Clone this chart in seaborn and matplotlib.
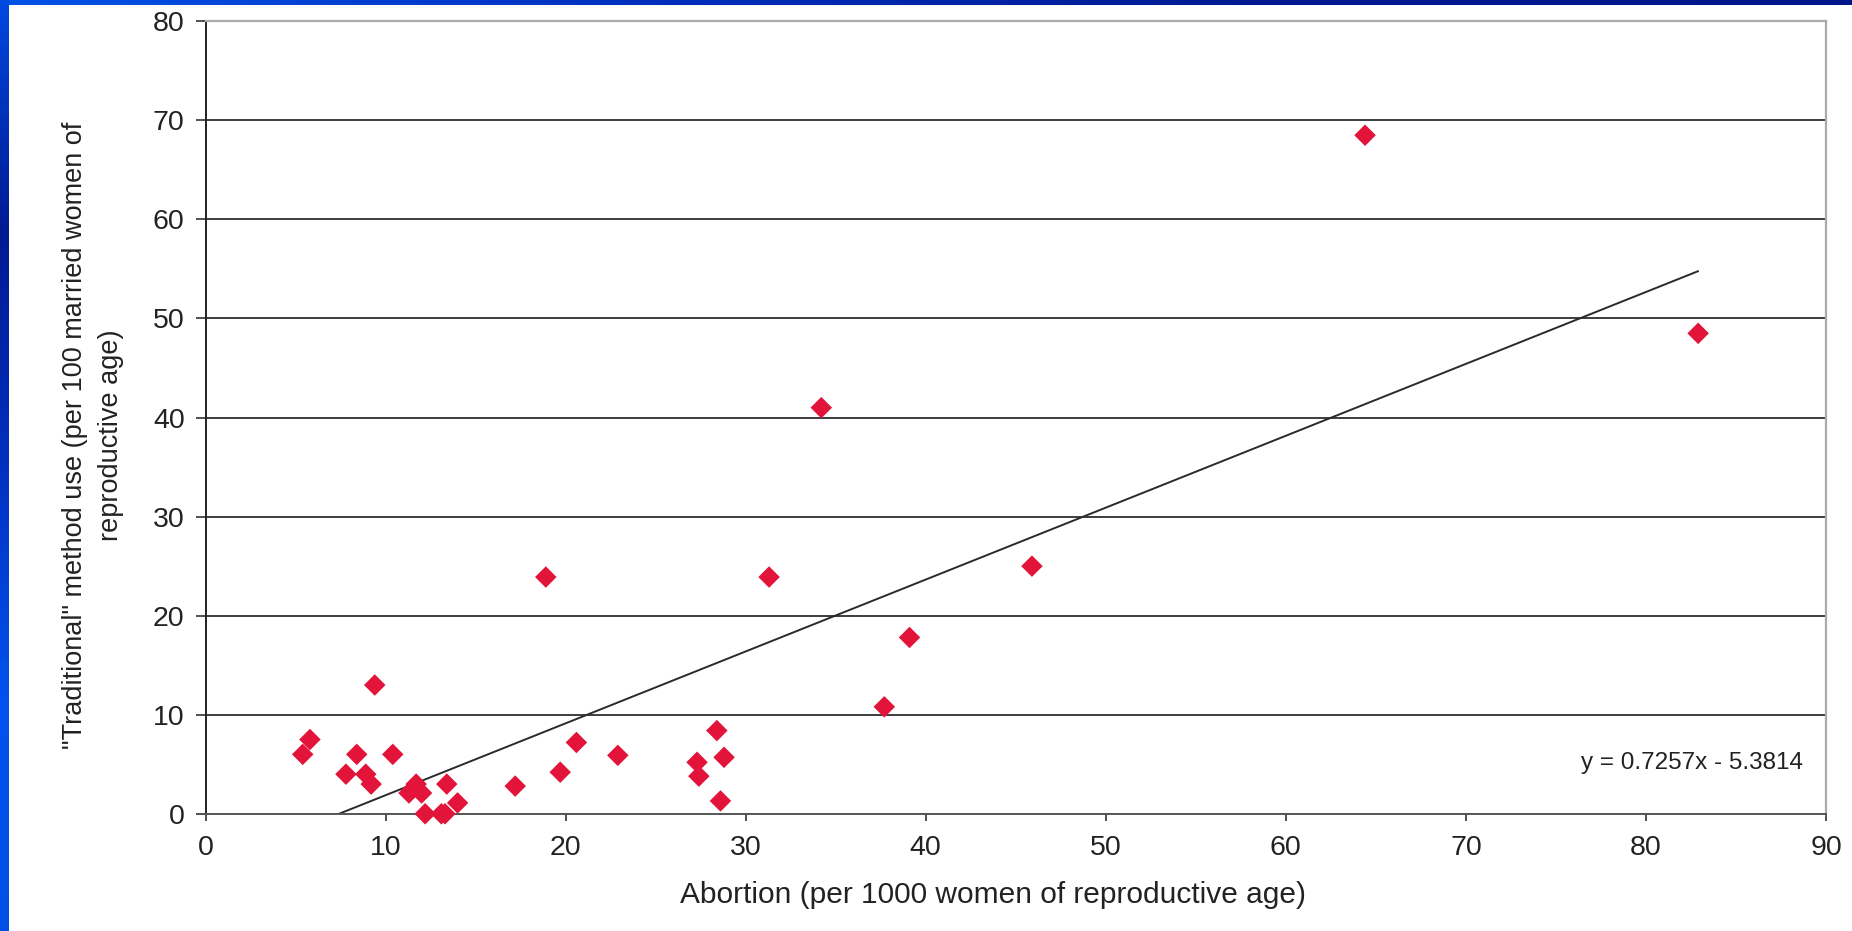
import numpy as np
import pandas as pd
import matplotlib
matplotlib.use("Agg")
import matplotlib.pyplot as plt
from matplotlib.colors import LinearSegmentedColormap
import seaborn as sns

# ---- data ----
abortion = [5.4, 5.8, 7.8, 8.4, 8.9, 9.2, 9.4, 10.4, 11.3, 11.7, 12.0, 12.2,
            13.1, 13.3, 13.4, 14.0, 17.2, 18.9, 19.7, 20.6, 22.9, 27.3, 27.4,
            28.4, 28.6, 28.8, 31.3, 34.2, 37.7, 39.1, 45.9, 64.4, 82.9]
traditional = [6.0, 7.5, 4.0, 6.0, 4.0, 3.0, 13.0, 6.0, 2.1, 3.0, 2.1, 0.0,
               0.0, 0.0, 3.0, 1.1, 2.8, 23.9, 4.2, 7.2, 5.9, 5.2, 3.8,
               8.4, 1.3, 5.7, 23.9, 41.0, 10.8, 17.8, 25.0, 68.5, 48.5]
trend_slope = 0.7257
trend_intercept = -5.3814
x_ticks = [0, 10, 20, 30, 40, 50, 60, 70, 80, 90]
y_ticks = [0, 10, 20, 30, 40, 50, 60, 70, 80]
x_label = "Abortion (per 1000 women of reproductive age)"
y_label = "\"Traditional\" method use (per 100 married women of\nreproductive age)"
equation = "y = 0.7257x - 5.3814"

df = pd.DataFrame({"abortion": abortion, "traditional": traditional})
xs = np.array([min(abortion), max(abortion)])
trend = pd.DataFrame({"x": xs, "y": trend_slope * xs + trend_intercept})

sns.set_theme(style="white")
plt.rcParams["font.family"] = ["Liberation Sans", "DejaVu Sans"]

W, H = 1852, 931
fig = plt.figure(figsize=(W / 100, H / 100), dpi=100)
fig.patch.set_facecolor("white")

# blue slide frame (top and left bands)
top_cmap = LinearSegmentedColormap.from_list("top", ["#0052E8", "#0030C0", "#001A92", "#00168C"])
left_cmap = LinearSegmentedColormap.from_list("left", ["#0048E0", "#001A92", "#0030C0", "#0052EE", "#0050E8"])
band_top = fig.add_axes([0, 1 - 5 / H, 1, 5 / H])
band_top.imshow(np.linspace(0, 1, 256)[None, :], aspect="auto", cmap=top_cmap)
band_top.axis("off")
band_left = fig.add_axes([0, 0, 9 / W, 1])
band_left.imshow(np.linspace(0, 1, 256)[:, None], aspect="auto", cmap=left_cmap)
band_left.axis("off")

L, R, T, B = 205.5, 1826, 21.3, 813.8
ax = fig.add_axes([L / W, 1 - B / H, (R - L) / W, (B - T) / H])

for yv in y_ticks[1:-1]:
    ax.axhline(yv, color="#2e2e2e", lw=1.3, zorder=1)

sns.lineplot(data=trend, x="x", y="y", ax=ax, color="#2a2a2a", lw=1.4, zorder=2)
sns.scatterplot(data=df, x="abortion", y="traditional", ax=ax, marker="D",
                s=120, color="#E3143A", edgecolor="none", zorder=3, clip_on=False)

ax.set_xlim(0, 90)
ax.set_ylim(0, 80)
ax.set_xticks(x_ticks)
ax.set_yticks(y_ticks)
ax.tick_params(axis="both", which="major", direction="out", width=1.2,
               color="#333333", labelsize=20.5, labelcolor="#222222", left=True, bottom=True)
ax.tick_params(axis="x", length=5, pad=10)
ax.tick_params(axis="y", length=7, pad=8)

ax.spines["left"].set_color("#222222")
ax.spines["left"].set_linewidth(1.4)
ax.spines["bottom"].set_color("#555555")
ax.spines["bottom"].set_linewidth(1.4)
ax.spines["top"].set_color("#A8ABAE")
ax.spines["top"].set_linewidth(1.6)
ax.spines["right"].set_color("#A8ABAE")
ax.spines["right"].set_linewidth(1.6)

ax.set_xlabel(x_label, fontsize=21.5, color="#222222")
ax.xaxis.set_label_coords(0.486, -0.1025)
ax.xaxis.label.set_va("center")
ax.set_ylabel(y_label, fontsize=19.5, color="#222222", linespacing=1.5)
ax.yaxis.set_label_coords(-0.0697, 0.478)
ax.yaxis.label.set_va("center")

ax.text(0.986, 0.064, equation, transform=ax.transAxes, ha="right", va="center",
        fontsize=17.5, color="#222222")

fig.savefig("out.png", dpi=100, facecolor="white")
